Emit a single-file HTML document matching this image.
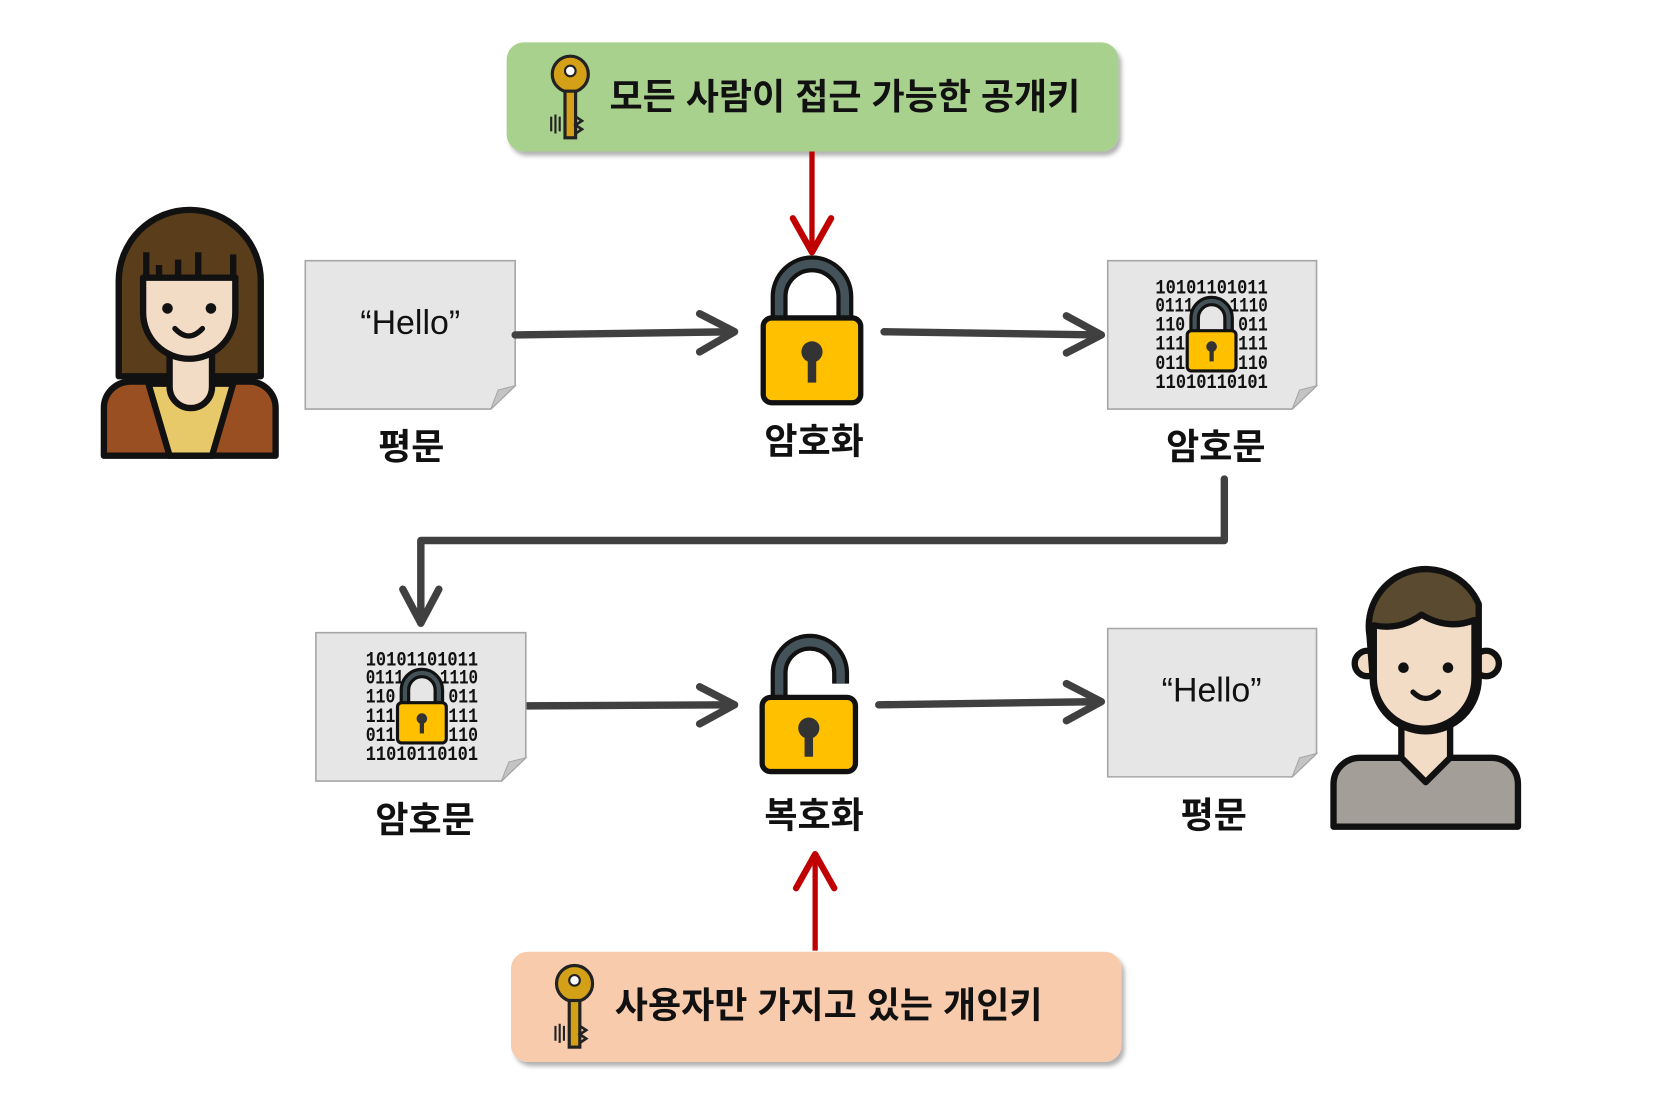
<!DOCTYPE html>
<html><head><meta charset="utf-8"><style>
html,body{margin:0;padding:0;background:#fff;}
svg{display:block;}
text{font-family:"Liberation Sans","Noto Sans CJK KR",sans-serif;font-weight:bold;}
text.bin{font-family:"Liberation Mono",monospace;font-weight:bold;}
</style></head><body>
<svg width="1660" height="1098" viewBox="0 0 1566 1036" preserveAspectRatio="none" xmlns="http://www.w3.org/2000/svg">
<defs>
<filter id="sh" x="-5%" y="-10%" width="115%" height="130%"><feDropShadow dx="3" dy="4" stdDeviation="2" flood-color="#000" flood-opacity="0.3"/></filter>
</defs>
<rect x="478" y="40" width="577" height="103" rx="16" fill="#a9d18e" filter="url(#sh)"/>
<g transform="translate(518,50)">
<circle cx="20" cy="20" r="17" fill="#d4a017" stroke="#222" stroke-width="3"/><circle cx="20" cy="17" r="5" fill="#fff" stroke="#222" stroke-width="2"/>
<rect x="15" y="36" width="10" height="44" fill="#d4a017" stroke="#222" stroke-width="3"/>
<path d="M25 60 l6 4 -6 4 6 4 -6 4" fill="none" stroke="#222" stroke-width="2.5"/>
<path d="M2 60v14M6 58v18M10 60v14" stroke="#222" stroke-width="2"/>
</g>
<text x="575" y="103" font-size="34" fill="#111">모든 사람이 접근 가능한 공개키</text>
<line x1="766" y1="143" x2="766" y2="238" stroke="#c00000" stroke-width="5"/>
<path d="M748 206 L766 238 L784 206" fill="none" stroke="#c00000" stroke-width="6" stroke-linecap="round" stroke-linejoin="round"/>
<g stroke="#111" stroke-width="6" stroke-linejoin="round">
<path d="M112 355 V265 a67 67 0 0 1 134 0 V355 Z" fill="#5a3d1a"/>
<path d="M98 430 V385 a25 25 0 0 1 25 -25 H235 a25 25 0 0 1 25 25 V430 Z" fill="#9a4f22"/>
<path d="M140 362 L160 430 H200 L220 362 Z" fill="#e8c96a"/>
<path d="M160 330 V365 a20 20 0 0 0 40 0 V330 Z" fill="#f2dcc6"/>
<path d="M135 262 H222 V295 a43 43 0 0 1 -87 0 Z" fill="#f2dcc6"/>
<path d="M138 262 V238 M150 262 V250 M168 262 V245 M187 262 V238 M220 262 V240" fill="none"/>
</g>
<circle cx="158" cy="291" r="5" fill="#111"/><circle cx="199" cy="291" r="5" fill="#111"/>
<path d="M165 310 q13 14 26 0" fill="none" stroke="#111" stroke-width="5" stroke-linecap="round"/>
<path d="M288 246 H486 V364 L463 386 H288 Z" fill="#e7e6e6" stroke="#a6a6a6" stroke-width="1.5"/>
<path d="M486 364 L470 368 L463 386 Z" fill="#c4c4c4" stroke="#a6a6a6" stroke-width="1"/>
<text x="387" y="315" font-size="32" text-anchor="middle" fill="#111" style="font-weight:normal">“Hello”</text>
<text x="388" y="433" font-size="34" text-anchor="middle" fill="#111">평문</text>
<g stroke="#404040" stroke-width="7" fill="none" stroke-linecap="round" stroke-linejoin="round">
<line x1="486" y1="316" x2="692" y2="313"/><path d="M660 296 L693 313 L660 332"/>
<line x1="834" y1="313" x2="1038" y2="316"/><path d="M1006 298 L1039 316 L1006 333"/>
<line x1="497" y1="666" x2="692" y2="665"/><path d="M660 648 L693 665 L660 683"/>
<line x1="829" y1="665" x2="1038" y2="662"/><path d="M1006 645 L1039 662 L1006 680"/>
<path d="M1155 452 V510 H397 V588"/><path d="M380 556 L397 588 L414 556"/>
</g>
<path d="M735 305 V280 a31 31 0 0 1 62 0 V305" fill="none" stroke="#111" stroke-width="16"/>
<path d="M735 305 V280 a31 31 0 0 1 62 0 V305" fill="none" stroke="#44525a" stroke-width="8"/>
<rect x="720" y="300" width="92" height="80" rx="8" fill="#ffc000" stroke="#111" stroke-width="5"/>
<circle cx="766" cy="332" r="10" fill="#333"/><rect x="762" y="335" width="8" height="26" fill="#333"/>
<text x="768" y="428" font-size="34" text-anchor="middle" fill="#111">암호화</text>
<path d="M1045 246 H1242 V364 L1219 386 H1045 Z" fill="#e7e6e6" stroke="#a6a6a6" stroke-width="1.5"/>
<path d="M1242 364 L1226 368 L1219 386 Z" fill="#c4c4c4" stroke="#a6a6a6" stroke-width="1"/>
<g font-size="19" fill="#111">
<text class="bin" x="1090" y="277" textLength="106" lengthAdjust="spacingAndGlyphs">10101101011</text>
<text class="bin" x="1090" y="294" textLength="36" lengthAdjust="spacingAndGlyphs">0111</text><text class="bin" x="1160" y="294" textLength="36" lengthAdjust="spacingAndGlyphs">1110</text>
<text class="bin" x="1090" y="312" textLength="28" lengthAdjust="spacingAndGlyphs">110</text><text class="bin" x="1168" y="312" textLength="28" lengthAdjust="spacingAndGlyphs">011</text>
<text class="bin" x="1090" y="330" textLength="28" lengthAdjust="spacingAndGlyphs">111</text><text class="bin" x="1168" y="330" textLength="28" lengthAdjust="spacingAndGlyphs">111</text>
<text class="bin" x="1090" y="348" textLength="28" lengthAdjust="spacingAndGlyphs">011</text><text class="bin" x="1168" y="348" textLength="28" lengthAdjust="spacingAndGlyphs">110</text>
<text class="bin" x="1090" y="366" textLength="106" lengthAdjust="spacingAndGlyphs">11010110101</text>
</g>
<path d="M1127 318 V300 a16 16 0 0 1 32 0 V318" fill="none" stroke="#111" stroke-width="10"/>
<path d="M1127 318 V300 a16 16 0 0 1 32 0 V318" fill="none" stroke="#44525a" stroke-width="4"/>
<rect x="1120" y="312" width="46" height="38" rx="4" fill="#ffc000" stroke="#111" stroke-width="3"/>
<circle cx="1143" cy="327" r="5" fill="#333"/><rect x="1141" y="329" width="4" height="12" fill="#333"/>
<text x="1147" y="433" font-size="34" text-anchor="middle" fill="#111">암호문</text>
<path d="M298 597 H496 V715 L473 737 H298 Z" fill="#e7e6e6" stroke="#a6a6a6" stroke-width="1.5"/>
<path d="M496 715 L480 719 L473 737 Z" fill="#c4c4c4" stroke="#a6a6a6" stroke-width="1"/>
<g font-size="19" fill="#111">
<text class="bin" x="345" y="628" textLength="106" lengthAdjust="spacingAndGlyphs">10101101011</text>
<text class="bin" x="345" y="645" textLength="36" lengthAdjust="spacingAndGlyphs">0111</text><text class="bin" x="415" y="645" textLength="36" lengthAdjust="spacingAndGlyphs">1110</text>
<text class="bin" x="345" y="663" textLength="28" lengthAdjust="spacingAndGlyphs">110</text><text class="bin" x="423" y="663" textLength="28" lengthAdjust="spacingAndGlyphs">011</text>
<text class="bin" x="345" y="681" textLength="28" lengthAdjust="spacingAndGlyphs">111</text><text class="bin" x="423" y="681" textLength="28" lengthAdjust="spacingAndGlyphs">111</text>
<text class="bin" x="345" y="699" textLength="28" lengthAdjust="spacingAndGlyphs">011</text><text class="bin" x="423" y="699" textLength="28" lengthAdjust="spacingAndGlyphs">110</text>
<text class="bin" x="345" y="717" textLength="106" lengthAdjust="spacingAndGlyphs">11010110101</text>
</g>
<path d="M382 669 V651 a16 16 0 0 1 32 0 V669" fill="none" stroke="#111" stroke-width="10"/>
<path d="M382 669 V651 a16 16 0 0 1 32 0 V669" fill="none" stroke="#44525a" stroke-width="4"/>
<rect x="375" y="663" width="46" height="38" rx="4" fill="#ffc000" stroke="#111" stroke-width="3"/>
<circle cx="398" cy="678" r="5" fill="#333"/><rect x="396" y="680" width="4" height="12" fill="#333"/>
<text x="401" y="785" font-size="34" text-anchor="middle" fill="#111">암호문</text>
<path d="M735 660 V635 a29 29 0 0 1 58 0 V645" fill="none" stroke="#111" stroke-width="16"/>
<path d="M735 660 V635 a29 29 0 0 1 58 0 V645" fill="none" stroke="#44525a" stroke-width="8"/>
<rect x="719" y="658" width="88" height="70" rx="8" fill="#ffc000" stroke="#111" stroke-width="5"/>
<circle cx="763" cy="687" r="10" fill="#333"/><rect x="759" y="690" width="8" height="24" fill="#333"/>
<text x="768" y="781" font-size="34" text-anchor="middle" fill="#111">복호화</text>
<path d="M1045 593 H1242 V711 L1219 733 H1045 Z" fill="#e7e6e6" stroke="#a6a6a6" stroke-width="1.5"/>
<path d="M1242 711 L1226 715 L1219 733 Z" fill="#c4c4c4" stroke="#a6a6a6" stroke-width="1"/>
<text x="1143" y="662" font-size="32" text-anchor="middle" fill="#111" style="font-weight:normal">“Hello”</text>
<text x="1145" y="781" font-size="34" text-anchor="middle" fill="#111">평문</text>
<g stroke="#111" stroke-width="6" stroke-linejoin="round">
<path d="M1258 780 V740 a25 25 0 0 1 25 -25 H1407 a25 25 0 0 1 25 25 V780 Z" fill="#a39e98"/>
<path d="M1322 680 V715 L1345 738 L1368 715 V680 Z" fill="#f2dcc6"/>
<circle cx="1290" cy="626" r="12" fill="#f2dcc6"/><circle cx="1402" cy="626" r="12" fill="#f2dcc6"/>
<path d="M1292 600 a54 54 0 0 1 103 -30 V640 a50 50 0 0 1 -100 0 Z" fill="#5a4a30"/>
<path d="M1296 590 q25 5 45 -10 q25 15 50 5 V640 a47 47 0 0 1 -95 0 Z" fill="#f2dcc6"/>
</g>
<circle cx="1324" cy="630" r="5" fill="#111"/><circle cx="1366" cy="630" r="5" fill="#111"/>
<path d="M1333 653 q12 12 24 0" fill="none" stroke="#111" stroke-width="5" stroke-linecap="round"/>
<line x1="769" y1="897" x2="769" y2="808" stroke="#c00000" stroke-width="5"/>
<path d="M751 838 L769 806 L787 838" fill="none" stroke="#c00000" stroke-width="6" stroke-linecap="round" stroke-linejoin="round"/>
<rect x="482" y="898" width="576" height="104" rx="16" fill="#f8cbad" filter="url(#sh)"/>
<g transform="translate(522,908)">
<circle cx="20" cy="20" r="17" fill="#d4a017" stroke="#222" stroke-width="3"/><circle cx="20" cy="17" r="5" fill="#fff" stroke="#222" stroke-width="2"/>
<rect x="15" y="36" width="10" height="44" fill="#d4a017" stroke="#222" stroke-width="3"/>
<path d="M25 60 l6 4 -6 4 6 4 -6 4" fill="none" stroke="#222" stroke-width="2.5"/>
<path d="M2 60v14M6 58v18M10 60v14" stroke="#222" stroke-width="2"/>
</g>
<text x="580" y="960" font-size="34" fill="#111">사용자만 가지고 있는 개인키</text>
</svg>
</body></html>
